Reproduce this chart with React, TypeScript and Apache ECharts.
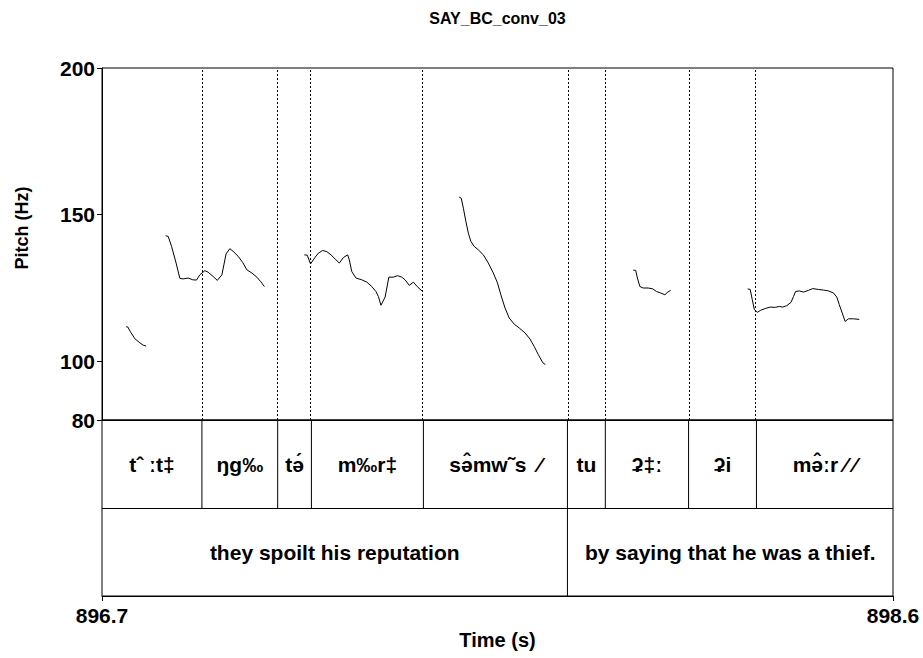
import React, { useEffect, useRef } from "react";
import * as echarts from "echarts";

const chartTitle = "SAY_BC_conv_03";
const timeMin = 896.7;
const timeMax = 898.6;
const pitchMin = 80;
const pitchMax = 200;
const pitchTicks = [80, 100, 150, 200];
const timeTicks = [896.7, 898.6];

// pitch contour segments: [time (s), pitch (Hz)]
const pitchSeg1 = [[896.758, 111.8], [896.762, 111.7], [896.769, 109.9], [896.779, 107.7], [896.791, 106.3], [896.799, 105.5], [896.806, 105.2]];
const pitchSeg2 = [[896.853, 142.8], [896.859, 142.6], [896.867, 139.2], [896.878, 133.5], [896.887, 128.3], [896.895, 128.1], [896.907, 128.4], [896.918, 127.8], [896.927, 127.7], [896.935, 129.5], [896.947, 130.9], [896.955, 130.4], [896.967, 128.9], [896.977, 127.6], [896.988, 129.5], [896.998, 136.6], [897.007, 138.4], [897.015, 137.5], [897.027, 135.8], [897.038, 133.7], [897.048, 131.2], [897.06, 130.1], [897.072, 128.7], [897.081, 127.2], [897.09, 125.5]];
const pitchSeg3 = [[897.186, 136.3], [897.193, 136.2], [897.201, 133.2], [897.212, 135.5], [897.22, 136.9], [897.23, 137.8], [897.24, 137.4], [897.25, 136.3], [897.26, 134.9], [897.27, 133.5], [897.28, 135.4], [897.29, 136.3], [897.294, 134.6], [897.3, 130.6], [897.31, 128.4], [897.324, 127.8], [897.336, 127.0], [897.348, 125.5], [897.358, 123.8], [897.364, 122.1], [897.37, 119.1], [897.38, 121.9], [897.389, 128.7], [897.4, 128.7], [897.41, 129.2], [897.42, 128.7], [897.428, 127.8], [897.438, 125.9], [897.448, 127.0], [897.457, 125.5], [897.47, 123.8]];
const pitchSeg4 = [[897.558, 156.0], [897.563, 155.6], [897.568, 152.2], [897.574, 147.7], [897.58, 143.7], [897.586, 140.9], [897.594, 139.2], [897.604, 138.0], [897.616, 136.3], [897.628, 133.5], [897.64, 130.1], [897.65, 126.7], [897.658, 122.7], [897.668, 118.2], [897.678, 114.8], [897.69, 112.7], [897.702, 111.4], [897.716, 109.7], [897.728, 107.6], [897.738, 105.1], [897.748, 102.3], [897.759, 99.5], [897.765, 98.9]];
const pitchSeg5 = [[897.976, 131.1], [897.982, 131.0], [897.986, 128.4], [897.992, 125.5], [898.0, 125.0], [898.012, 125.0], [898.023, 124.7], [898.032, 123.8], [898.042, 123.3], [898.052, 122.7], [898.059, 123.6], [898.066, 124.2]];
const pitchSeg6 = [[898.251, 124.7], [898.257, 124.5], [898.262, 121.0], [898.267, 117.6], [898.274, 116.7], [898.282, 117.4], [898.293, 118.0], [898.305, 118.5], [898.317, 118.4], [898.327, 118.7], [898.335, 118.5], [898.345, 119.0], [898.355, 120.1], [898.361, 122.1], [898.366, 123.8], [898.375, 124.0], [898.385, 123.6], [898.397, 124.2], [898.407, 124.8], [898.421, 124.5], [898.433, 124.3], [898.445, 124.0], [898.457, 123.3], [898.465, 121.9], [898.471, 119.3], [898.478, 116.5], [898.485, 113.6], [898.493, 114.5], [898.505, 114.5], [898.519, 114.3]];
const pitchSegments = [pitchSeg1, pitchSeg2, pitchSeg3, pitchSeg4, pitchSeg5, pitchSeg6];

// text grid tiers
const tier1Bounds = [896.7, 896.94, 897.122, 897.203, 897.472, 897.818, 897.909, 898.109, 898.272, 898.6];
const tier1Labels = ["tˆ ːt‡", "ŋg‰", "tə́", "m‰r‡", "sə̂mw˜s  ⁄", "tu", "ʡ‡ː", "ʡi", "mə̂ːr ⁄ ⁄"];
const tier2Bounds = [896.7, 897.818, 898.6];
const tier2Labels = ["they spoilt his reputation", "by saying that he was a thief."];

const FONT = "'Liberation Sans', Arial, 'DejaVu Sans', sans-serif";

type Item = { start: number; end: number; row: number; label: string };

function buildTier(bounds: number[], labels: string[], row: number): Item[] {
  return labels.map((label, i) => ({ start: bounds[i], end: bounds[i + 1], row, label }));
}

export default function App() {
  const ref = useRef<HTMLDivElement>(null);

  useEffect(() => {
    if (!ref.current) return;
    const chart = echarts.init(ref.current, undefined, { renderer: "svg" });

    const items: Item[] = [
      ...buildTier(tier1Bounds, tier1Labels, 1),
      ...buildTier(tier2Bounds, tier2Labels, 0),
    ];
    const innerBounds = tier1Bounds.slice(1, -1);

    const pitchSeries: any[] = pitchSegments.map((seg, i) => ({
      type: "line",
      xAxisIndex: 0,
      yAxisIndex: 0,
      data: seg,
      showSymbol: false,
      symbol: "none",
      silent: true,
      lineStyle: { color: "#000", width: 1 },
      z: 3,
      markLine:
        i === 0
          ? {
              silent: true,
              symbol: ["none", "none"],
              label: { show: false },
              lineStyle: { color: "#000", width: 1, type: [2, 2] },
              data: innerBounds.map((t) => ({ xAxis: t })),
            }
          : undefined,
    }));

    const option: any = {
      animation: false,
      backgroundColor: "#fff",
      textStyle: { fontFamily: FONT },
      grid: [
        { left: 102, top: 68, width: 791, height: 352, show: true, borderColor: "#000", borderWidth: 1, backgroundColor: "transparent" },
        { left: 102, top: 420, width: 791, height: 176, show: true, borderColor: "#000", borderWidth: 1, backgroundColor: "transparent" },
      ],
      xAxis: [
        { type: "value", gridIndex: 0, min: timeMin, max: timeMax, show: false },
        {
          type: "value",
          gridIndex: 1,
          min: timeMin,
          max: timeMax,
          axisLine: { show: true, lineStyle: { color: "#000", width: 1 } },
          axisTick: { show: true, customValues: timeTicks, length: 5, lineStyle: { color: "#000" } },
          axisLabel: {
            customValues: timeTicks,
            showMinLabel: true,
            showMaxLabel: true,
            formatter: (v: number) => v.toFixed(1),
            color: "#000",
            fontSize: 21,
            fontWeight: "bold",
            fontFamily: FONT,
            margin: 9,
          },
          splitLine: { show: false },
        },
      ],
      yAxis: [
        {
          type: "value",
          gridIndex: 0,
          min: pitchMin,
          max: pitchMax,
          axisLine: { show: true, lineStyle: { color: "#000", width: 1 } },
          axisTick: { show: true, customValues: pitchTicks, length: 5, lineStyle: { color: "#000" } },
          axisLabel: {
            customValues: pitchTicks,
            showMinLabel: true,
            showMaxLabel: true,
            color: "#000",
            fontSize: 21,
            fontWeight: "bold",
            fontFamily: FONT,
            margin: 7,
          },
          splitLine: { show: false },
        },
        {
          type: "value",
          gridIndex: 1,
          min: 0,
          max: 2,
          interval: 1,
          axisLine: { show: false },
          axisTick: { show: false },
          axisLabel: { show: false },
          splitLine: { show: true, lineStyle: { color: "#000", width: 1 } },
        },
      ],
      graphic: [
        {
          type: "text",
          x: 497.5,
          y: 18,
          style: { text: chartTitle, textAlign: "center", textVerticalAlign: "middle", font: `bold 16px ${FONT}`, fill: "#000" },
        },
        {
          type: "text",
          x: 22,
          y: 228,
          rotation: Math.PI / 2,
          style: { text: "Pitch (Hz)", textAlign: "center", textVerticalAlign: "middle", font: `bold 18px ${FONT}`, fill: "#000" },
        },
        {
          type: "text",
          x: 497.5,
          y: 640,
          style: { text: "Time (s)", textAlign: "center", textVerticalAlign: "middle", font: `bold 20px ${FONT}`, fill: "#000" },
        },
      ],
      series: [
        ...pitchSeries,
        {
          type: "custom",
          xAxisIndex: 1,
          yAxisIndex: 1,
          silent: true,
          clip: false,
          data: items.map((it) => [it.start, it.end, it.row]),
          encode: { x: [0, 1], y: 2 },
          renderItem: (params: any, api: any) => {
            const it = items[params.dataIndex];
            const p0 = api.coord([it.start, it.row + 1]);
            const p1 = api.coord([it.end, it.row]);
            const children: any[] = [];
            if (it.start > timeMin) {
              children.push({
                type: "line",
                shape: { x1: p0[0], y1: p0[1], x2: p0[0], y2: p1[1] },
                style: { stroke: "#000", lineWidth: 1 },
              });
            }
            children.push({
              type: "text",
              x: (p0[0] + p1[0]) / 2,
              y: (p0[1] + p1[1]) / 2,
              style: {
                text: it.label,
                textAlign: "center",
                textVerticalAlign: "middle",
                font: `bold 21px ${FONT}`,
                fill: "#000",
              },
            });
            return { type: "group", children };
          },
        },
      ],
    };

    chart.setOption(option);
    return () => chart.dispose();
  }, []);

  return (
    <div
      ref={ref}
      style={{ position: "absolute", left: 0, top: 0, width: 923, height: 658, background: "#fff" }}
    />
  );
}
